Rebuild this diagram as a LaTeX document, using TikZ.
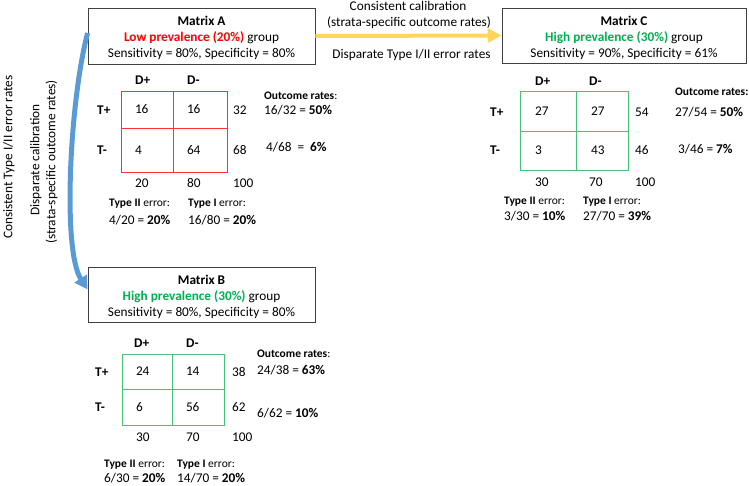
\documentclass[tikz,border=0pt]{standalone}
\usepackage{fontspec}
\setmainfont{Carlito}
\usetikzlibrary{arrows.meta}
\definecolor{lowred}{RGB}{255,0,0}
\definecolor{hgreen}{RGB}{0,176,80}
\definecolor{gridred}{RGB}{255,50,50}
\definecolor{gridgreen}{RGB}{70,195,120}
\definecolor{boxgray}{RGB}{64,64,64}
\definecolor{ayellow}{RGB}{255,214,90}
\definecolor{ablue}{RGB}{91,155,213}
\newcommand\fsN{\fontsize{13.3}{16}\selectfont}
\newcommand\fsS{\fontsize{11.5}{14}\selectfont}
\newcommand\topstrut{\rule{0pt}{13.5pt}}
\begin{document}
\begin{tikzpicture}[x=1pt,y=-1pt,
 txt/.style={inner sep=0pt, font=\fsN, text height=10pt, text depth=1.4pt},
 lt/.style={txt, anchor=west},
 sm/.style={inner sep=0pt, font=\fsS, text height=8.7pt, text depth=1.3pt, anchor=west},
 hd/.style={lt, font=\fsN\bfseries},
 mbox/.style={draw=boxgray, line width=0.8pt, align=center, font=\fsN, inner sep=0pt},
 cell/.style n args={4}{txt, draw=#1, line width=0.8pt, text width=#2, minimum height=#3, inner xsep=#4, inner ysep=0pt, align=left},
 yarrow/.style={draw=ayellow, line width=4pt, -{Triangle[length=14pt,width=14pt]}},
 barrow/.style={draw=ablue, line width=5pt, -{Triangle[length=13pt,width=14pt]}}
]
\useasboundingbox (0,0) rectangle (749,485);

% ---------- boxes
\node[mbox, minimum width=227pt, minimum height=56pt] (matA) at (201.5,36)
 {\topstrut\textbf{Matrix A}\\ \textcolor{lowred}{\textbf{Low prevalence (20\%)}} group\\ Sensitivity = 80\%, Specificity = 80\%};
\node[mbox, minimum width=244pt, minimum height=55pt] (matC) at (624,35.5)
 {\topstrut\textbf{Matrix C}\\ \textcolor{hgreen}{\textbf{High prevalence (30\%)}} group\\ Sensitivity = 90\%, Specificity = 61\%};
\node[mbox, minimum width=227pt, minimum height=55pt] (matB) at (201.5,294.5)
 {\topstrut\textbf{Matrix B}\\ \textcolor{hgreen}{\textbf{High prevalence (30\%)}} group\\ Sensitivity = 80\%, Specificity = 80\%};

% ---------- arrows
\draw[yarrow] (matA.east) -- (matC.west);
\node[txt] (y1) at (408,6) {Consistent calibration};
\node[txt] (y2) at (409,22) {(strata-specific outcome rates)};
\node[txt] (y3) at (411.5,54) {Disparate Type I/II error rates};

\coordinate (bs) at ([yshift=3pt]matA.west);
\coordinate (be) at ([yshift=5pt]matB.west);
\draw[barrow] (bs) .. controls (70,100) and (62,250) .. (be);
\node[txt, rotate=90] (l1) at (8,157) {Consistent Type I/II error rates};
\node[txt, rotate=90] (l2) at (35,160) {Disparate calibration};
\node[txt, rotate=90] (l3) at (51,162) {(strata-specific outcome rates)};

% ---------- Matrix A table
\node[cell={gridred}{24pt}{37pt}{14pt}] (a11) at (147,109.5) {16};
\node[cell={gridred}{26pt}{37pt}{14pt}] (a12) at (200,109.5) {16};
\node[cell={gridred}{24pt}{44pt}{14pt}] (a21) at (147,150) {4};
\node[cell={gridred}{26pt}{44pt}{14pt}] (a22) at (200,150) {64};
\node[hd] (aDp) at (135,80) {D+};
\node[hd] (aDm) at (187,80) {D-};
\node[hd] (aTp) at (97,110) {T+};
\node[hd] (aTm) at (97,150) {T-};
\node[lt] (ar1) at (233,110) {32};
\node[lt] (ar2) at (233,150) {68};
\node[lt] (ac1) at (135,183) {20};
\node[lt] (ac2) at (187,183) {80};
\node[lt] (ac3) at (233,183) {100};
\node[sm] (aor) at (264,96) {\textbf{Outcome rates}:};
\node[lt] (ao1) at (264,110) {16/32 = \textbf{50\%}};
\node[lt] (ao2) at (266,147) {4/68\ \ =\ \ \textbf{6\%}};
\node[sm] (at2) at (109,203) {\textbf{Type II} error:};
\node[lt] (at2v) at (109,220) {4/20 = \textbf{20\%}};
\node[sm] (at1) at (188,203) {\textbf{Type I} error:};
\node[lt] (at1v) at (188,220) {16/80 = \textbf{20\%}};

% ---------- Matrix C table
\node[cell={gridgreen}{26pt}{40pt}{15pt}] (c11) at (548,111) {27};
\node[cell={gridgreen}{22pt}{40pt}{15pt}] (c12) at (602,111) {27};
\node[cell={gridgreen}{26pt}{39pt}{15pt}] (c21) at (548,150.5) {3};
\node[cell={gridgreen}{22pt}{39pt}{15pt}] (c22) at (602,150.5) {43};
\node[hd] (cDp) at (535,81) {D+};
\node[hd] (cDm) at (589,81) {D-};
\node[hd] (cTp) at (490,112) {T+};
\node[hd] (cTm) at (490,150) {T-};
\node[lt] (cr1) at (635,112) {54};
\node[lt] (cr2) at (635,150) {46};
\node[lt] (cc1) at (535,182) {30};
\node[lt] (cc2) at (589,182) {70};
\node[lt] (cc3) at (635,182) {100};
\node[sm] (cor) at (675,92) {\textbf{Outcome rates:}};
\node[lt] (co1) at (675,112) {27/54 = \textbf{50\%}};
\node[lt] (co2) at (678,149) {3/46 = \textbf{7\%}};
\node[sm] (ct2) at (504,201) {\textbf{Type II} error:};
\node[lt] (ct2v) at (504,216) {3/30 = \textbf{10\%}};
\node[sm] (ct1) at (583,201) {\textbf{Type I} error:};
\node[lt] (ct1v) at (583,216) {27/70 = \textbf{39\%}};

% ---------- Matrix B table
\node[cell={gridgreen}{22pt}{35pt}{14pt}] (b11) at (147,371.5) {24};
\node[cell={gridgreen}{24pt}{35pt}{14pt}] (b12) at (198,371.5) {14};
\node[cell={gridgreen}{22pt}{36pt}{14pt}] (b21) at (147,407) {6};
\node[cell={gridgreen}{24pt}{36pt}{14pt}] (b22) at (198,407) {56};
\node[hd] (bDp) at (134,343) {D+};
\node[hd] (bDm) at (186,343) {D-};
\node[hd] (bTp) at (95,372) {T+};
\node[hd] (bTm) at (95,407) {T-};
\node[lt] (br1) at (232,372) {38};
\node[lt] (br2) at (232,407) {62};
\node[lt] (bc1) at (136,437) {30};
\node[lt] (bc2) at (186,437) {70};
\node[lt] (bc3) at (232,437) {100};
\node[sm] (bor) at (257,354) {\textbf{Outcome rates}:};
\node[lt] (bo1) at (257,370) {24/38 = \textbf{63\%}};
\node[lt] (bo2) at (257,413) {6/62 = \textbf{10\%}};
\node[sm] (bt2) at (104,464) {\textbf{Type II} error:};
\node[lt] (bt2v) at (104,478) {6/30 = \textbf{20\%}};
\node[sm] (bt1) at (177,464) {\textbf{Type I} error:};
\node[lt] (bt1v) at (177,478) {14/70 = \textbf{20\%}};
\end{tikzpicture}
\end{document}
